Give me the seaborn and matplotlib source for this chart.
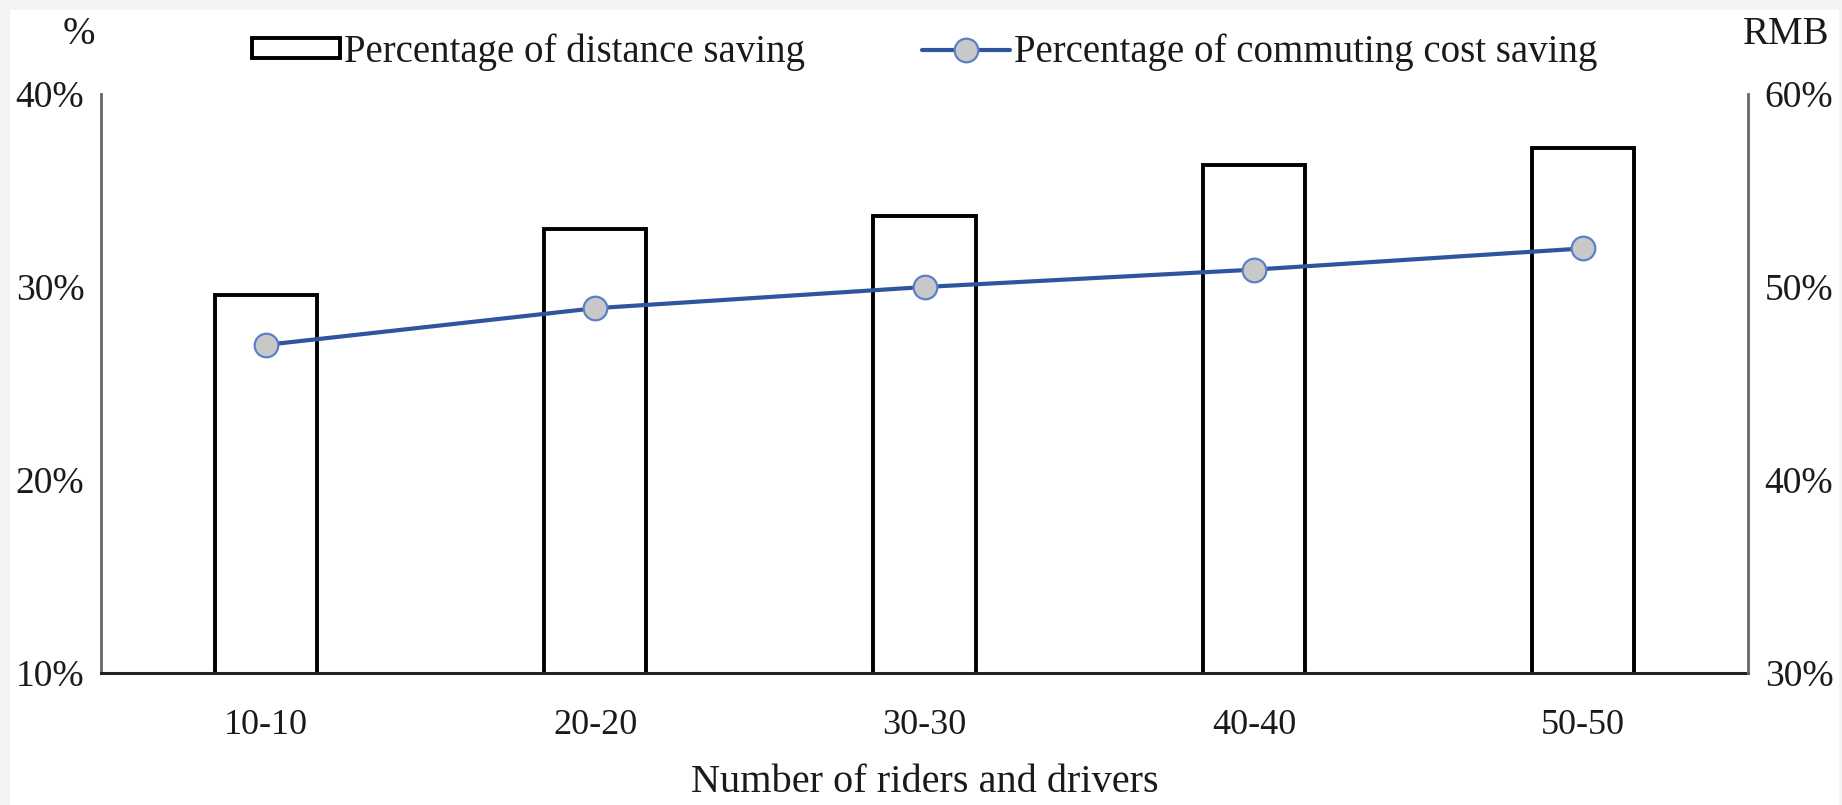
import numpy as np
import pandas as pd
import matplotlib
matplotlib.use("Agg")
import matplotlib.pyplot as plt
from matplotlib.patches import Patch, Rectangle
from matplotlib.lines import Line2D
import seaborn as sns

# values
categories = ["10-10", "20-20", "30-30", "40-40", "50-50"]
distance_saving = [29.6, 33.0, 33.7, 36.3, 37.2]   # left axis, %
cost_saving = [47.0, 48.9, 50.0, 50.9, 52.0]       # right axis, %
left_ticks = [10, 20, 30, 40]
right_ticks = [30, 40, 50, 60]

sns.set_theme(style="white")
plt.rcParams['font.family'] = ['Liberation Serif', 'DejaVu Serif']

line_color = '#2f55a0'
marker_kw = dict(marker='o', markersize=17, markerfacecolor='#c8c8c8',
                 markeredgecolor='#5b80c6', markeredgewidth=1.6)

df = pd.DataFrame({"group": categories, "distance": distance_saving, "cost": cost_saving})

fig = plt.figure(figsize=(18.42, 8.05), dpi=100, facecolor='#f4f4f4')
# white page inside the thin grey border of the screenshot
fig.patches.append(Rectangle((10/1842, 0), 1829/1842, 795/805, transform=fig.transFigure,
                             facecolor='white', edgecolor='none', zorder=-10))

ax = fig.add_axes([101/1842, 1-673/805, (1748-101)/1842, (673-94)/805])
sns.barplot(data=df, x="group", y="distance", color="white", saturation=1,
            edgecolor="black", linewidth=2.8, width=0.31, ax=ax)
ax.set_ylim(10, 40)
ax.set_yticks(left_ticks)
ax.set_yticklabels([f"{t}%" for t in left_ticks])
ax.set_xlim(-0.5, 4.5)

ax2 = ax.twinx()
sns.lineplot(data=df, x="group", y="cost", ax=ax2, color=line_color, lw=3.0, **marker_kw)
ax2.set_ylim(30, 60)
ax2.set_yticks(right_ticks)
ax2.set_yticklabels([f"{t}%" for t in right_ticks])
ax.set_xlim(-0.5, 4.5)

ax.set_ylabel("")
ax2.set_ylabel("")
ax.set_xlabel("Number of riders and drivers", fontsize=29, labelpad=16, color='#1a1a1a')
ax2.set_xlabel("")

ax.tick_params(axis='y', length=0, pad=12, labelsize=27, colors='#1a1a1a')
ax.tick_params(axis='x', length=0, pad=26, labelsize=26, colors='#1a1a1a')
ax2.tick_params(axis='y', length=0, pad=12, labelsize=27, colors='#1a1a1a')

for s in ['top', 'right']:
    ax.spines[s].set_visible(False)
for s in ['top', 'left', 'bottom']:
    ax2.spines[s].set_visible(False)
ax.spines['left'].set_color('#666666')
ax.spines['left'].set_linewidth(2.0)
ax2.spines['right'].set_color('#666666')
ax2.spines['right'].set_linewidth(2.0)
ax.spines['bottom'].set_color('#222222')
ax.spines['bottom'].set_linewidth(2.2)

bar_handle = Patch(facecolor='white', edgecolor='black', linewidth=2.8)
line_handle = Line2D([], [], color=line_color, lw=3.0, **marker_kw)
fig.legend([bar_handle, line_handle],
           ["Percentage of distance saving", "Percentage of commuting cost saving"],
           loc='center', bbox_to_anchor=(0.502, 0.935), ncol=2, frameon=False,
           fontsize=28, handlelength=2.27, handleheight=0.4, handletextpad=0.1,
           columnspacing=3.0, labelcolor='#1a1a1a')

fig.text(79/1842, 1-35/805, "%", ha='center', va='center', fontsize=28, color='#1a1a1a')
fig.text(1786/1842, 1-35/805, "RMB", ha='center', va='center', fontsize=28, color='#1a1a1a')

fig.savefig("out.png", dpi=100, facecolor=fig.get_facecolor())
